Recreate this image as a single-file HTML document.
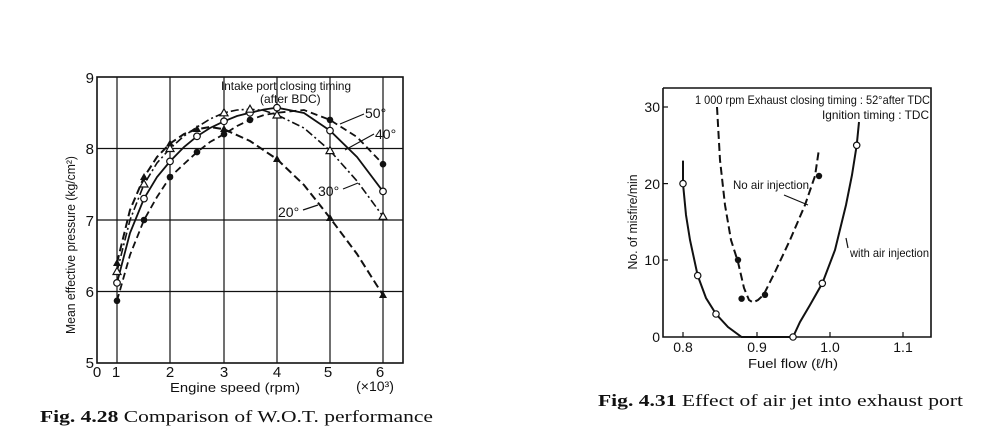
<!DOCTYPE html>
<html><head><meta charset="utf-8"><style>
html,body{margin:0;padding:0;background:#fff;}
svg{display:block;}
text{fill:#111;}
</style></head><body>
<svg width="1007" height="427" viewBox="0 0 1007 427" xmlns="http://www.w3.org/2000/svg">
<rect width="1007" height="427" fill="#fff"/>
<!-- LEFT CHART -->
<g stroke="#111" fill="none">
<rect x="97" y="77" width="306" height="286" stroke-width="1.6"/>
<g stroke-width="1.2">
<line x1="117" y1="77" x2="117" y2="363"/><line x1="170" y1="77" x2="170" y2="363"/>
<line x1="224" y1="77" x2="224" y2="363"/><line x1="277" y1="77" x2="277" y2="363"/>
<line x1="330" y1="77" x2="330" y2="363"/><line x1="383" y1="77" x2="383" y2="363"/>
<line x1="97" y1="148.5" x2="403" y2="148.5"/><line x1="97" y1="220" x2="403" y2="220"/>
<line x1="97" y1="291.5" x2="403" y2="291.5"/>
</g>
<polyline stroke-width="1.8" stroke-dasharray="7,4" points="117,300.8 130,255 144,220 157,197 170,177.1 184,164 197,152.1 210,142 224,134.2 237,126 250,119.9 264,115 277,112.8 304,110 330,119.9 357,137 383,164.2"/>
<polyline stroke-width="1.8" points="117,282.9 130,233 144,198.6 157,177 170,161.4 184,147 197,136.3 210,128 224,121.3 237,116 250,112.8 264,109.5 277,107.7 304,113 330,130.6 357,157 383,191.4"/>
<polyline stroke-width="1.6" stroke-dasharray="8,3,2,3" points="117,271.5 130,220 144,184.3 157,163 170,148.5 184,136 197,127.1 210,119 224,112.8 237,110 250,109.2 264,110.5 277,114.9 304,128 330,150.6 357,181 383,216.4"/>
<polyline stroke-width="2" stroke-dasharray="8,4" points="117,262.9 130,210 144,177.1 157,157 170,143.5 184,134 197,129.2 210,127 224,129.2 250,141 277,159.2 304,185 330,217.9 357,254 383,295.1"/>
</g>
<g fill="#111">
<circle cx="117" cy="300.8" r="3.3"/><circle cx="144" cy="220" r="3.3"/><circle cx="170" cy="177.1" r="3.3"/><circle cx="197" cy="152.1" r="3.3"/><circle cx="224" cy="134.2" r="3.3"/><circle cx="250" cy="119.9" r="3.3"/><circle cx="330" cy="119.9" r="3.3"/><circle cx="383" cy="164.2" r="3.3"/>
<polygon points="117,258.9 113,266 121,266"/><polygon points="144,173 140,180 148,180"/><polygon points="170,139.5 166,146.5 174,146.5"/><polygon points="197,125 193,132 201,132"/><polygon points="224,125 220,132 228,132"/><polygon points="277,155 273,162 281,162"/><polygon points="330,213.9 326,221 334,221"/><polygon points="383,291 379,298 387,298"/>
</g>
<g fill="#fff" stroke="#111" stroke-width="1.2">
<circle cx="117" cy="282.9" r="3.3"/><circle cx="144" cy="198.6" r="3.3"/><circle cx="170" cy="161.4" r="3.3"/><circle cx="197" cy="136.3" r="3.3"/><circle cx="224" cy="121.3" r="3.3"/><circle cx="250" cy="112.8" r="3.3"/><circle cx="277" cy="107.7" r="3.3"/><circle cx="330" cy="130.6" r="3.3"/><circle cx="383" cy="191.4" r="3.3"/>
<polygon points="117,267.5 113,274.5 121,274.5"/><polygon points="144,180 140,187 148,187"/><polygon points="170,144.5 166,151.5 174,151.5"/><polygon points="224,108.8 220,115.8 228,115.8"/><polygon points="250,105.2 246,112.2 254,112.2"/><polygon points="277,111 273,118 281,118"/><polygon points="330,146.6 326,153.6 334,153.6"/><polygon points="383,212.4 379,219.4 387,219.4"/>
</g>
<g font-family="Liberation Sans, sans-serif" font-size="15" text-anchor="end">
<text x="94" y="83">9</text><text x="94" y="154">8</text><text x="94" y="226">7</text><text x="94" y="297">6</text><text x="94" y="368">5</text>
</g>
<g font-family="Liberation Sans, sans-serif" font-size="15" text-anchor="middle">
<text x="97" y="377">0</text><text x="116" y="377">1</text><text x="170" y="377">2</text><text x="224" y="377">3</text><text x="277" y="377">4</text><text x="328" y="377">5</text><text x="380" y="377">6</text>
<text x="375" y="391" font-size="14">(×10³)</text>
<text x="235" y="392" font-size="13" textLength="130" lengthAdjust="spacingAndGlyphs">Engine speed   (rpm)</text>
</g>
<text transform="translate(75,245) rotate(-90)" font-family="Liberation Sans, sans-serif" font-size="13" text-anchor="middle" textLength="178" lengthAdjust="spacingAndGlyphs">Mean effective pressure   (kg/cm²)</text>
<g font-family="Liberation Sans, sans-serif" font-size="12">
<text x="221" y="90" textLength="130" lengthAdjust="spacingAndGlyphs">Intake port closing timing</text>
<text x="260" y="103">(after BDC)</text>
<text x="365" y="118" font-size="14">50°</text><text x="375" y="139" font-size="14">40°</text>
<text x="318" y="196" font-size="14">30°</text><text x="278" y="217" font-size="14">20°</text>
</g>
<g stroke="#111" stroke-width="1.2">
<line x1="364" y1="114" x2="340" y2="124"/><line x1="374" y1="134" x2="345" y2="150"/>
<line x1="343" y1="189" x2="358" y2="183"/><line x1="303" y1="210" x2="318" y2="205"/>
</g>
<text x="40" y="422" font-family="Liberation Serif, serif" font-size="17" textLength="393" lengthAdjust="spacingAndGlyphs"><tspan font-weight="bold">Fig. 4.28</tspan>  Comparison of W.O.T. performance</text>

<!-- RIGHT CHART -->
<g stroke="#111" fill="none">
<polyline stroke-width="1.6" points="663,88 931,88 931,337 663,337 663,88"/>
<g stroke-width="1.2"><line x1="663" y1="107" x2="668" y2="107"/><line x1="663" y1="183.6" x2="668" y2="183.6"/><line x1="663" y1="260" x2="668" y2="260"/>
<line x1="683" y1="337" x2="683" y2="332"/><line x1="757" y1="337" x2="757" y2="332"/><line x1="830" y1="337" x2="830" y2="332"/><line x1="903" y1="337" x2="903" y2="332"/></g>
<polyline stroke-width="2" points="683,160.6 683,183.6 686,215 690,240 697.7,275.6 706,298 716,314 728,327 741.6,337 793,337 800,322 810,305 822.3,283.3 835,250 846,205 852,175 856.7,145.3 859,122"/>
<polyline stroke-width="2" stroke-dasharray="8,4" points="717,107 720,160 725,205 731,240 738,262 744,288 749,300 753,302.5 758,300 763.6,294.8 775,272 790,240 805,205 815,176 819,149"/>
</g>
<g fill="#fff" stroke="#111" stroke-width="1.2">
<circle cx="683" cy="183.6" r="3.2"/><circle cx="697.7" cy="275.6" r="3.2"/><circle cx="716" cy="314" r="3.2"/><circle cx="793" cy="337" r="3.2"/><circle cx="822.3" cy="283.3" r="3.2"/><circle cx="856.7" cy="145.3" r="3.2"/>
</g>
<g fill="#111"><circle cx="738" cy="260" r="3.2"/><circle cx="741.6" cy="298.7" r="3.2"/><circle cx="765" cy="294.8" r="3.2"/><circle cx="819" cy="176" r="3.2"/></g>
<g font-family="Liberation Sans, sans-serif" font-size="14" text-anchor="end">
<text x="660" y="112">30</text><text x="660" y="189">20</text><text x="660" y="265">10</text><text x="660" y="342">0</text>
</g>
<g font-family="Liberation Sans, sans-serif" font-size="14" text-anchor="middle">
<text x="683" y="352">0.8</text><text x="757" y="352">0.9</text><text x="830" y="352">1.0</text><text x="903" y="352">1.1</text>
<text x="793" y="368" font-size="13" textLength="90" lengthAdjust="spacingAndGlyphs">Fuel flow (ℓ/h)</text>
</g>
<text transform="translate(637,222) rotate(-90)" font-family="Liberation Sans, sans-serif" font-size="13" text-anchor="middle" textLength="95" lengthAdjust="spacingAndGlyphs">No. of misfire/min</text>
<g font-family="Liberation Sans, sans-serif" font-size="12">
<text x="695" y="104" textLength="235" lengthAdjust="spacingAndGlyphs">1 000 rpm Exhaust closing timing : 52°after TDC</text>
<text x="822" y="119" textLength="107" lengthAdjust="spacingAndGlyphs">Ignition timing : TDC</text>
<text x="733" y="189" textLength="76" lengthAdjust="spacingAndGlyphs">No air injection</text>
<text x="850" y="257" textLength="79" lengthAdjust="spacingAndGlyphs">with air injection</text>
</g>
<g stroke="#111" stroke-width="1.2"><line x1="784" y1="195" x2="808" y2="205"/><line x1="848" y1="248" x2="846" y2="238"/></g>
<text x="598" y="406" font-family="Liberation Serif, serif" font-size="17" textLength="365" lengthAdjust="spacingAndGlyphs"><tspan font-weight="bold">Fig. 4.31</tspan>  Effect of air jet into exhaust port</text>
</svg>
</body></html>
